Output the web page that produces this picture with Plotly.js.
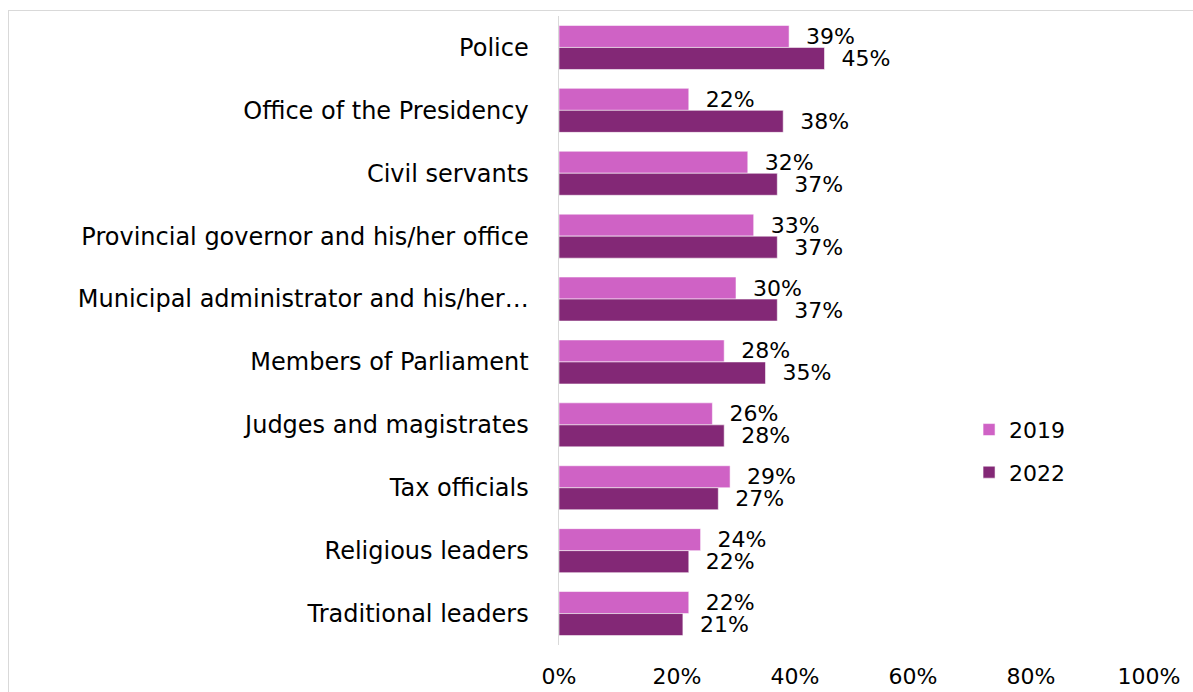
<!DOCTYPE html>
<html><head><meta charset="utf-8">
<script src="https://cdn.plot.ly/plotly-3.0.1.min.js"></script>
<style>
html,body{margin:0;padding:0;background:#fff;}
#chart{width:1193px;height:692px;}
#frame{position:absolute;left:8px;top:10px;width:1200px;height:700px;border:1px solid #d9d9d9;pointer-events:none;}
</style></head>
<body>
<div id="chart"></div>
<div id="frame"></div>
<script>
const categories = ["Police","Office of the Presidency","Civil servants","Provincial governor and his/her office","Municipal administrator and his/her…","Members of Parliament","Judges and magistrates","Tax officials","Religious leaders","Traditional leaders"];
const values2019 = [39,22,32,33,30,28,26,29,24,22];
const values2022 = [45,38,37,37,37,35,28,27,22,21];
const seriesNames = ["2019","2022"];
const xTicks = [0,20,40,60,80,100];

const fam = "'DejaVu Sans', sans-serif";
function trace(name, vals, color){
  return {type:"bar", orientation:"h", name:name, legendgroup:name, y:categories, x:vals,
    marker:{color:color, line:{color:"rgba(255,255,255,0.55)", width:1}},
    text:vals.map(v=>"\u00a0\u00a0"+v+"%"), textposition:"outside", cliponaxis:false, constraintext:"none",
    textfont:{family:fam, size:22, color:"#000"}, hoverinfo:"x+y"};
}
const data = [trace(seriesNames[0], values2019, "#CF62C5"), trace(seriesNames[1], values2022, "#832876")];
const layout = {
  width:1193, height:692,
  margin:{l:559, r:44, t:16, b:47},
  paper_bgcolor:"#fff", plot_bgcolor:"#fff",
  barmode:"group", bargap:0.3, bargroupgap:0,
  font:{family:fam, color:"#000"},
  xaxis:{range:[0,100], tickvals:xTicks, ticktext:xTicks.map(v=>v+"%"), showgrid:false, zeroline:false, showline:false,
    ticks:"", ticklabelstandoff:16, tickfont:{size:22, family:fam, color:"#000"}},
  yaxis:{autorange:"reversed", showline:true, linecolor:"#d9d9d9", linewidth:1.5, ticks:"", showgrid:false,
    ticklabelstandoff:24, tickfont:{size:24, family:fam, color:"#000"}},
  legend:{x:0.695, y:0.308, xanchor:"left", yanchor:"middle", traceorder:"grouped",
    font:{size:22, family:fam, color:"#000"}, tracegroupgap:11, itemwidth:30, bgcolor:"rgba(0,0,0,0)"},
  showlegend:true
};
Plotly.newPlot("chart", data, layout, {displayModeBar:false, staticPlot:true});
</script>
</body></html>
